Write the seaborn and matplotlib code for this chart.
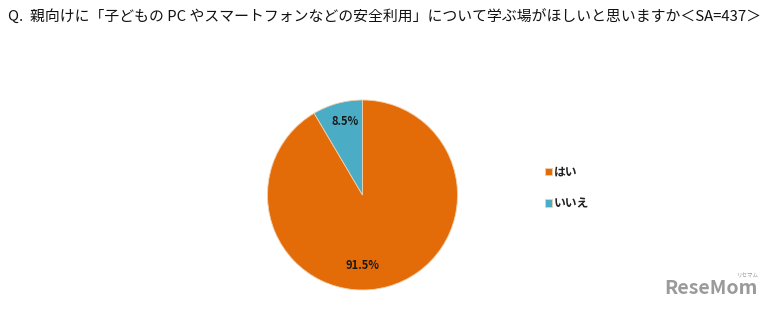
import matplotlib
matplotlib.use("Agg")
import matplotlib.pyplot as plt
import seaborn as sns

sns.set_theme(style="white")
plt.rcParams['font.family'] = ['Noto Sans CJK JP', 'DejaVu Sans']

title = "Q.  親向けに「子どもの PC やスマートフォンなどの安全利用」について学ぶ場がほしいと思いますか＜SA=437＞"
categories = ["はい", "いいえ"]
values = [91.5, 8.5]
colors = ["#E36C09", "#4BACC6"]

fig = plt.figure(figsize=(7.76, 3.11), dpi=100)
ax = fig.add_axes([267.5 / 776, (311 - 290) / 311, 190 / 776, 190 / 311])

wedges, texts, autotexts = ax.pie(
    values, colors=colors, startangle=90, counterclock=False,
    autopct=lambda p: f"{p:.1f}%", pctdistance=0.75,
    wedgeprops=dict(edgecolor="#f0d0b0", linewidth=0.6),
    textprops=dict(fontsize=8, fontweight="bold", color="#1a1a1a"),
)
ax.set_xlim(-1.0, 1.0)
ax.set_ylim(-1.0, 1.0)
# place percentage labels like the original
autotexts[0].set_position((0.0, -0.74))
autotexts[1].set_position((-0.18, 0.77))
ax.set_aspect("equal")

fig.text(8 / 776, 1 - 17 / 311, title, fontsize=10.7, ha="left", va="center", color="#111111")

leg = fig.legend(wedges, categories, loc="center left", bbox_to_anchor=(534 / 776, 1 - 188 / 311),
                 frameon=False, fontsize=8.5, handlelength=0.6, handleheight=0.6,
                 handletextpad=0.2, labelspacing=1.55)
for t in leg.get_texts():
    t.set_fontweight("bold")
    t.set_color("#222222")

fig.text(711 / 776, 1 - 289 / 311, "ReseMom", fontsize=14, fontweight="bold",
         ha="center", va="center", color="#9a9a9a")
fig.text(748 / 776, 1 - 276 / 311, "リセマム", fontsize=4, ha="center", va="center", color="#9a9a9a")

fig.savefig("out.png", dpi=100)
